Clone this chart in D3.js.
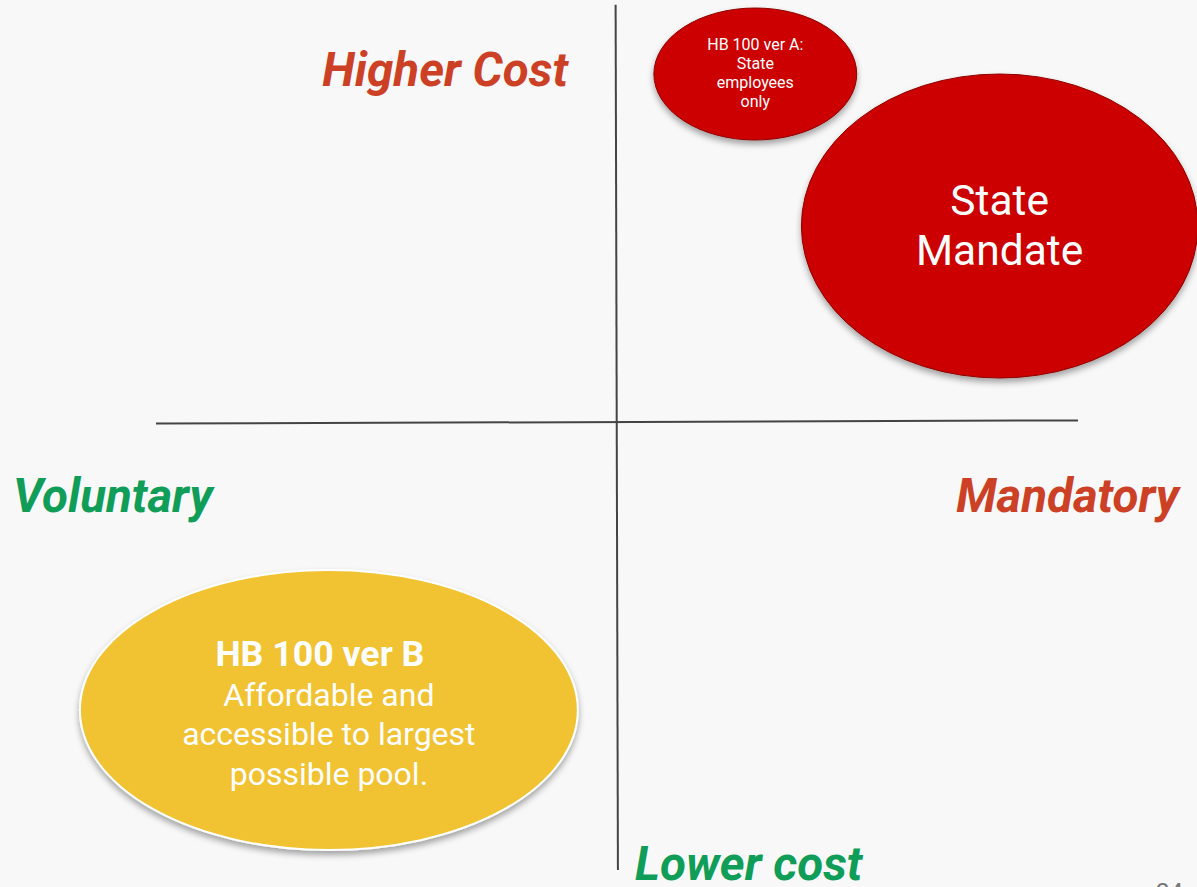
<!DOCTYPE html>
<html>
<head>
<meta charset="utf-8">
<script src="https://cdn.jsdelivr.net/npm/d3@7"></script>
<style>
  html, body { margin: 0; padding: 0; background: #f8f8f8; overflow: hidden; }
  svg { display: block; font-family: Roboto, "Noto Sans", sans-serif; }
</style>
</head>
<body>
<div id="chart"></div>
<script>
// quadrant data: x = voluntary (-1) .. mandatory (+1), y = lower (-1) .. higher cost (+1)
const bubbleNames = ["HB 100 ver A", "State Mandate", "HB 100 ver B"];
const bubbleX = [0.30, 0.83, -0.625];
const bubbleY = [0.87, 0.49, -0.72];
const bubbleRx = [0.22, 0.43, 0.54];
const bubbleRy = [0.165, 0.38, 0.35];
const bubbleFill = ["#cc0000", "#cc0000", "#f1c232"];
const bubbleStroke = ["#8e0000", "#8e0000", "#ffffff"];
const bubbleLines = [
  ["HB 100 ver A:", "State", "employees", "only"],
  ["State", "Mandate"],
  ["HB 100 ver B", "Affordable and", "accessible to largest", "possible pool."]
];

const axisLabels = ["Higher Cost", "Voluntary", "Mandatory", "Lower cost"];
const axisColors = ["#cc4125", "#0f9d58", "#cc4125", "#0f9d58"];

const width = 1197;
const height = 887;

const x = d3.scaleLinear().domain([-1, 1]).range([156, 1078]);
const y = d3.scaleLinear().domain([-1, 1]).range([822, 22]);

const svg = d3.select("#chart")
  .append("svg")
  .attr("width", width)
  .attr("height", height);

svg.append("rect")
  .attr("width", width)
  .attr("height", height)
  .attr("fill", "#f8f8f8");

const defs = svg.append("defs");
const shadow = defs.append("filter")
  .attr("id", "shadow")
  .attr("x", "-10%").attr("y", "-10%")
  .attr("width", "120%").attr("height", "130%");
shadow.append("feDropShadow")
  .attr("dx", 0).attr("dy", 4)
  .attr("stdDeviation", 3)
  .attr("flood-color", "#000")
  .attr("flood-opacity", 0.35);

// axes (the two crossing lines)
svg.append("line")
  .attr("x1", x(-0.003)).attr("y1", y(1.043))
  .attr("x2", x(0.002)).attr("y2", y(-1.12))
  .attr("stroke", "#444")
  .attr("stroke-width", 2);

svg.append("line")
  .attr("x1", x(-1)).attr("y1", y(-0.004))
  .attr("x2", x(1)).attr("y2", y(0.004))
  .attr("stroke", "#444")
  .attr("stroke-width", 2);

// axis labels
const labelPos = [
  { x: 568, y: 86, anchor: "end" },
  { x: 13, y: 512, anchor: "start" },
  { x: 1179, y: 512, anchor: "end" },
  { x: 635, y: 880, anchor: "start" }
];

svg.selectAll(".axis-label")
  .data(axisLabels)
  .enter()
  .append("text")
  .attr("class", "axis-label")
  .attr("x", (d, i) => labelPos[i].x)
  .attr("y", (d, i) => labelPos[i].y)
  .attr("text-anchor", (d, i) => labelPos[i].anchor)
  .attr("fill", (d, i) => axisColors[i])
  .attr("font-size", 47.5)
  .attr("font-weight", "bold")
  .attr("font-style", "italic")
  .text((d) => d);

// bubbles
const bubbles = bubbleNames.map((name, i) => ({
  name,
  cx: bubbleX[i],
  cy: bubbleY[i],
  rx: bubbleRx[i],
  ry: bubbleRy[i],
  fill: bubbleFill[i],
  stroke: bubbleStroke[i],
  lines: bubbleLines[i]
}));

const xUnit = (v) => x(v) - x(0);
const yUnit = (v) => y(0) - y(v);

const bubble = svg.selectAll(".bubble")
  .data(bubbles)
  .enter()
  .append("g")
  .attr("class", "bubble");

bubble.append("ellipse")
  .attr("cx", (d) => x(d.cx))
  .attr("cy", (d) => y(d.cy))
  .attr("rx", (d) => xUnit(d.rx))
  .attr("ry", (d) => yUnit(d.ry))
  .attr("fill", (d) => d.fill)
  .attr("stroke", (d) => d.stroke)
  .attr("stroke-width", (d, i) => (i === 2 ? 2 : 1))
  .attr("filter", "url(#shadow)");

// text styles per bubble
const textStyle = [
  { size: 16, lead: 19, first: 50, bold: false },
  { size: 42.5, lead: 50, first: 215, bold: false },
  { size: 32, lead: 39.5, first: 666, bold: true }
];

bubble.each(function (d, i) {
  const st = textStyle[i];
  const t = d3.select(this).append("text")
    .attr("text-anchor", "middle")
    .attr("fill", "#ffffff")
    .attr("font-size", st.size);
  d.lines.forEach((line, j) => {
    const isTitle = st.bold && j === 0;
    t.append("tspan")
      // bold title sits a little left of the body lines (trailing space on the slide)
      .attr("x", x(d.cx) + (isTitle ? -9 : 0))
      .attr("y", st.first + j * st.lead)
      .attr("font-weight", isTitle ? "bold" : "normal")
      .attr("font-size", isTitle ? 35.7 : st.size)
      .text(line);
  });
});

// page number (cut off at the bottom, as on the slide)
svg.append("text")
  .attr("x", 1183)
  .attr("y", 900)
  .attr("text-anchor", "end")
  .attr("fill", "#757575")
  .attr("font-size", 24)
  .text("24");
</script>
</body>
</html>
